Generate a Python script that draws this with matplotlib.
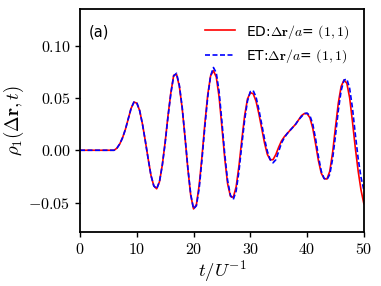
"""
rho_1(dr, t): ED vs ET
"""

import numpy as np
from matplotlib import pyplot as plt

plt.rcParams["mathtext.fontset"] = "cm"
plt.rcParams["font.family"] = "DejaVu Sans"

# time grid, step 0.5
t = np.arange(0, 50.01, 0.5)

# ED: Delta r / a = (1,1)
rho_ed = [
    0.000, 0.000, 0.000, 0.000, 0.000, 0.000, 0.000, 0.000, 0.000, 0.000,  # 0 - 4.5
    0.000, 0.000, 0.000, 0.002, 0.006, 0.012, 0.020, 0.030, 0.040, 0.046,  # 5 - 9.5
    0.045, 0.038, 0.025, 0.009, -0.008, -0.024, -0.034, -0.0368, -0.030, -0.014,  # 10 - 14.5
    0.008, 0.033, 0.055, 0.0715, 0.0725, 0.061, 0.040, 0.012, -0.018, -0.043,  # 15 - 19.5
    -0.056, -0.052, -0.033, -0.005, 0.026, 0.053, 0.071, 0.076, 0.070, 0.051,  # 20 - 24.5
    0.022, -0.008, -0.032, -0.044, -0.045, -0.035, -0.015, 0.010, 0.033, 0.049,  # 25 - 29.5
    0.055, 0.054, 0.047, 0.035, 0.021, 0.007, -0.004, -0.009, -0.009, -0.004,  # 30 - 34.5
    0.003, 0.009, 0.013, 0.016, 0.019, 0.022, 0.025, 0.029, 0.033, 0.035,  # 35 - 39.5
    0.035, 0.031, 0.021, 0.006, -0.010, -0.022, -0.027, -0.0275, -0.020, -0.002,  # 40 - 44.5
    0.022, 0.045, 0.061, 0.067, 0.064, 0.050, 0.027, 0.002, -0.020, -0.038,  # 45 - 49.5
    -0.051,
]

# ET: Delta r / a = (1,1)
rho_et = [
    0.000, 0.000, 0.000, 0.000, 0.000, 0.000, 0.000, 0.000, 0.000, 0.000,
    0.000, 0.000, 0.000, 0.002, 0.006, 0.012, 0.020, 0.030, 0.040, 0.046,
    0.0455, 0.038, 0.025, 0.009, -0.008, -0.024, -0.034, -0.0368, -0.030, -0.014,
    0.007, 0.032, 0.054, 0.071, 0.0735, 0.062, 0.041, 0.013, -0.017, -0.042,
    -0.056, -0.053, -0.036, -0.008, 0.023, 0.051, 0.071, 0.079, 0.074, 0.056,
    0.027, -0.004, -0.029, -0.043, -0.047, -0.039, -0.020, 0.005, 0.029, 0.047,
    0.056, 0.057, 0.051, 0.039, 0.025, 0.011, -0.001, -0.009, -0.012, -0.009,
    -0.001, 0.007, 0.012, 0.016, 0.019, 0.022, 0.025, 0.029, 0.032, 0.035,
    0.0355, 0.033, 0.025, 0.011, -0.006, -0.020, -0.027, -0.028, -0.023, -0.008,
    0.014, 0.038, 0.057, 0.067, 0.068, 0.059, 0.040, 0.015, -0.008, -0.026,
    -0.038,
]

xticks = [0, 10, 20, 30, 40, 50]
yticks = [-0.05, 0.00, 0.05, 0.10]

fig = plt.figure(figsize=(3.81, 2.86), dpi=100)
ax = fig.add_axes([0.21, 0.189, 0.745, 0.78])

ax.plot(t, rho_ed, color="red", lw=1.2, label=r"ED:$\Delta\mathbf{r}/a$= $(1,1)$")
ax.plot(t, rho_et, color="blue", lw=1.2, ls=(0, (3, 1.5)), label=r"ET:$\Delta\mathbf{r}/a$= $(1,1)$")

ax.set_xlim(0, 50)
ax.set_ylim(-0.078, 0.135)
ax.set_xticks(xticks)
ax.set_xticklabels([rf"${v}$" for v in xticks], fontsize=11.5)
ax.set_yticks(yticks)
ax.set_yticklabels([rf"${v:.2f}$" for v in yticks], fontsize=11.5)
ax.set_xlabel(r"$t/U^{-1}$", fontsize=13.5, labelpad=1)
ax.set_ylabel(r"$\rho_1(\Delta\mathbf{r},t)$", fontsize=13.5, labelpad=2)
for s in ax.spines.values():
    s.set_linewidth(1.3)
ax.tick_params(direction="out", length=3.5, width=1.0)

ax.text(0.03, 0.93, "(a)", transform=ax.transAxes, fontsize=10.5, va="top")
ax.legend(loc="upper right", frameon=False, fontsize=10, handlelength=2.2,
          borderaxespad=0.6, borderpad=0.4, labelspacing=0.5, handletextpad=0.8)

fig.savefig("out.png", dpi=100)
